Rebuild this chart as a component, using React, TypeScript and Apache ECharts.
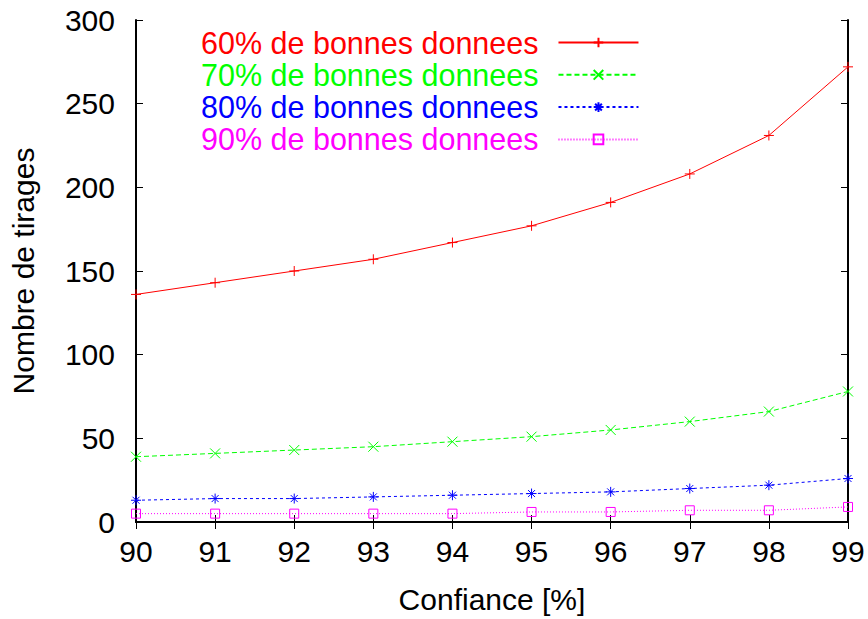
import React, { useEffect, useRef } from "react";
import * as echarts from "echarts";

const confidence = [90, 91, 92, 93, 94, 95, 96, 97, 98, 99];
const series60 = [136, 143, 150, 157, 167, 177, 191, 208, 231, 272];
const series70 = [39, 41, 43, 45, 48, 51, 55, 60, 66, 78];
const series80 = [13, 14, 14, 15, 16, 17, 18, 20, 22, 26];
const series90 = [5, 5, 5, 5, 5, 6, 6, 7, 7, 9];
const seriesNames = [
  "60% de bonnes donnees",
  "70% de bonnes donnees",
  "80% de bonnes donnees",
  "90% de bonnes donnees",
];
const colors = ["#ff0000", "#00ff00", "#0000ff", "#ff00ff"];

const FONT = "'Liberation Sans', Arial, Helvetica, sans-serif";

export default function App() {
  const ref = useRef<HTMLDivElement>(null);
  useEffect(() => {
    if (!ref.current) return;
    const chart = echarts.init(ref.current, null, { renderer: "svg" });
    const values = [series60, series70, series80, series90];
    const symbols = [
      "path://M0,5H10M5,0V10",
      "path://M0,0L10,10M10,0L0,10",
      "path://M0,5H10M5,0V10M1.5,1.5L8.5,8.5M8.5,1.5L1.5,8.5",
      "path://M0,0H10V10H0Z",
    ];
    const dashes: any[] = ["solid", [5, 3], [3, 3], [1, 2]];
    const axisLine = { show: true, lineStyle: { color: "#000", width: 2 } };
    const tick = { show: true, inside: true, length: 7, lineStyle: { color: "#000", width: 1 } };
    chart.setOption({
      animation: false,
      grid: { left: 136, right: 20, top: 20, bottom: 97, containLabel: false },
      legend: {
        orient: "vertical",
        left: 201,
        top: 27,
        padding: 0,
        align: "right",
        itemWidth: 80,
        itemHeight: 12,
        itemGap: 1.3,
        selectedMode: false,
        data: seriesNames.map((n, i) => ({
          name: n,
          textStyle: { color: colors[i], fontSize: 30.5, lineHeight: 30, fontFamily: FONT },
        })),
        textStyle: { fontSize: 30.5, fontFamily: FONT, padding: [0, 15, 0, 0] },
      },
      xAxis: [
        {
          type: "value",
          min: 90,
          max: 99,
          interval: 1,
          name: "Confiance [%]",
          nameLocation: "middle",
          nameGap: 62,
          nameTextStyle: { fontSize: 30, color: "#000", fontFamily: FONT },
          axisLine,
          axisTick: tick,
          splitLine: { show: false },
          axisLabel: { fontSize: 30, color: "#000", fontFamily: FONT, margin: 14 },
        },
        {
          type: "value",
          position: "top",
          min: 90,
          max: 99,
          interval: 1,
          axisLine,
          axisTick: tick,
          splitLine: { show: false },
          axisLabel: { show: false },
        },
      ],
      yAxis: [
        {
          type: "value",
          min: 0,
          max: 300,
          interval: 50,
          name: "Nombre de tirages",
          nameLocation: "middle",
          nameGap: 98,
          nameTextStyle: { fontSize: 30, color: "#000", fontFamily: FONT },
          axisLine,
          axisTick: tick,
          splitLine: { show: false },
          axisLabel: { fontSize: 30, color: "#000", fontFamily: FONT, margin: 21 },
        },
        {
          type: "value",
          position: "right",
          min: 0,
          max: 300,
          interval: 50,
          axisLine,
          axisTick: tick,
          splitLine: { show: false },
          axisLabel: { show: false },
        },
      ],
      series: values.map((vals, i) => ({
        type: "line",
        name: seriesNames[i],
        xAxisIndex: 0,
        yAxisIndex: 0,
        data: confidence.map((c, j) => [c, vals[j]]),
        symbol: symbols[i],
        symbolSize: i === 3 ? 9 : 10,
        showSymbol: true,
        itemStyle: { color: "transparent", borderColor: colors[i], borderWidth: 1 },
        lineStyle: { color: colors[i], width: 1, type: dashes[i] },
        emphasis: { disabled: true },
      })),
    });
    return () => chart.dispose();
  }, []);
  return <div ref={ref} style={{ width: 868, height: 619, position: "absolute", left: 0, top: 0, background: "#fff" }} />;
}
